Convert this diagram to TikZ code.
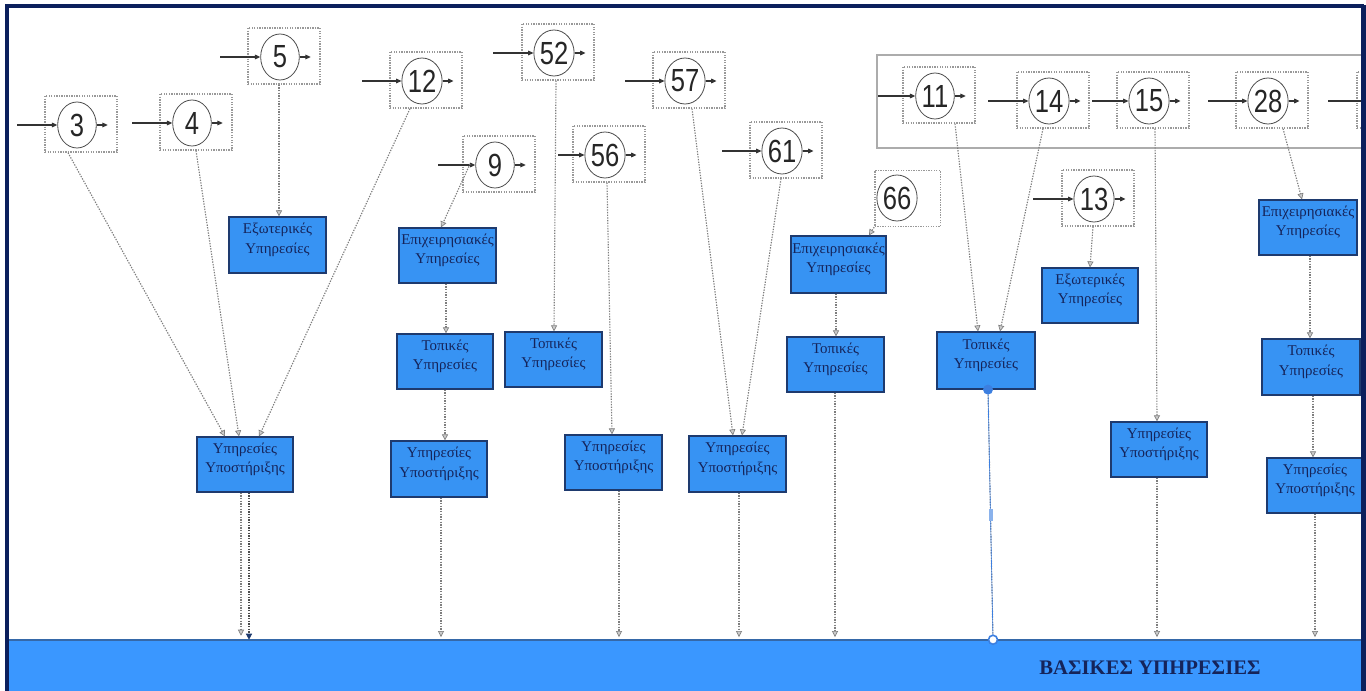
\documentclass[tikz,border=0pt]{standalone}
\usepackage{graphicx}
\usepackage{fontspec}
\setmainfont{Liberation Serif}
\newfontfamily\numfont{Liberation Sans}
\usetikzlibrary{arrows.meta,shapes.geometric,fit}

\definecolor{framecol}{HTML}{0B1F5C}
\definecolor{svcfill}{HTML}{3793F3}
\definecolor{svcedge}{HTML}{1E3A6E}
\definecolor{svctext}{HTML}{15245A}
\definecolor{bandfill}{HTML}{3A97FF}
\definecolor{bandedge}{HTML}{3568A8}
\definecolor{linkgray}{HTML}{7E7E7E}
\definecolor{selblue}{HTML}{3C7FE0}

\newcommand\procnum[1]{\scalebox{0.8}[1]{\numfont\fontsize{24}{24}\selectfont #1}}

\tikzset{
  pbox/.style={draw=gray!80, line width=1pt, dash pattern=on 1pt off 0.9pt,
    minimum width=54pt, minimum height=42pt, inner sep=0pt},
  pcirc/.style={ellipse, draw=black!70, line width=0.6pt, fill=white,
    minimum width=29pt, minimum height=34.5pt, inner sep=0pt, text=black!85},
  pin/.style={draw=black!80, line width=0.8pt, -{Triangle[length=4pt,width=3.5pt]}},
  pout/.style={draw=black!80, line width=0.8pt, -{Triangle[length=4pt,width=3.5pt]}},
  svc/.style={draw=svcedge, line width=0.9pt, fill=svcfill, inner sep=0pt,
    align=center, text=svctext, font=\fontsize{11.2}{14.5}\selectfont},
  link/.style={draw=linkgray, line width=0.85pt, dash pattern=on 1pt off 1pt,
    -{Triangle[length=4.5pt,width=4.5pt,fill=gray!40,color=linkgray,line width=0.5pt]}},
  darklink/.style={draw=gray!60!black, line width=0.85pt, dash pattern=on 1pt off 1pt,
    -{Triangle[length=4.5pt,width=4.5pt,fill=svcedge,color=svcedge]}},
}

% numbered process step: name, box left, box top, label, start of incoming arrow
\newcommand\procnode[5]{%
  \node[pbox] (#1) at (#2+36,#3+28) {};
  \node[pcirc] (#1c) at (#2+32,#3+29) {\procnum{#4}};
  \draw[pout] (#1c.east) -- ++(11,0) coordinate (#1o);
  \coordinate (#1i) at (#5,#3+29);
  \draw[pin] (#1i) -- (#1c.west);
}

\begin{document}
\begin{tikzpicture}[x=0.75pt,y=-0.75pt]
\useasboundingbox (0,0) rectangle (1366,691);
\fill[white] (0,0) rectangle (1366,691);

\begin{scope}
\clip (8,7.5) rectangle (1361,691);

% base band
\node[fit={(8,640) (1366,695)}, fill=bandfill, inner sep=0pt] (band) {};
\draw[bandedge, line width=1.5pt] (band.north west) -- (band.north east);
\node[font=\bfseries\fontsize{15.5}{15.5}\selectfont, text=svctext] (bandlbl) at (1150,668) {ΒΑΣΙΚΕΣ ΥΠΗΡΕΣΙΕΣ};

% grouped chain frame
\node[fit={(877,55) (1400,148)}, draw=gray!65, line width=1.8pt, inner sep=0pt] (grp) {};

% process steps
\procnode{p3}{45}{96}{3}{17}
\procnode{p4}{160}{94}{4}{132}
\procnode{p5}{248}{28}{5}{220}
\procnode{p12}{390}{52}{12}{362}
\procnode{p9}{463}{136}{9}{438}
\procnode{p52}{522}{24}{52}{493}
\procnode{p56}{573}{126}{56}{558}
\procnode{p57}{653}{52}{57}{625}
\procnode{p61}{750}{122}{61}{722}
\procnode{p11}{903}{67}{11}{878}
\procnode{p14}{1017}{72}{14}{988}
\procnode{p15}{1117}{72}{15}{1092}
\procnode{p28}{1236}{72}{28}{1208}
\procnode{pnext}{1357}{72}{}{1328}
\procnode{p13}{1062}{170}{13}{1033}
\node[pbox, minimum width=49pt] (p66) at (907.5,198.5) {};
\node[pcirc] (p66c) at (897,198) {\procnum{66}};

% service boxes
\node[svc, fit={(229,217) (326,273)}] (e5) {Εξωτερικές\\Υπηρεσίες};
\node[svc, fit={(197,437) (293,492)}] (s1) {Υπηρεσίες\\Υποστήριξης};
\node[svc, fit={(399,228) (496,283)}] (b9) {Επιχειρησιακές\\Υπηρεσίες};
\node[svc, fit={(397,334) (493,389)}] (t9) {Τοπικές\\Υπηρεσίες};
\node[svc, fit={(391,441) (487,497)}] (s9) {Υπηρεσίες\\Υποστήριξης};
\node[svc, fit={(505,332) (602,387)}] (t52) {Τοπικές\\Υπηρεσίες};
\node[svc, fit={(565,435) (662,490)}] (s56) {Υπηρεσίες\\Υποστήριξης};
\node[svc, fit={(689,436) (786,492)}] (s57) {Υπηρεσίες\\Υποστήριξης};
\node[svc, fit={(791,236) (886,293)}] (b66) {Επιχειρησιακές\\Υπηρεσίες};
\node[svc, fit={(787,337) (884,392)}] (t66) {Τοπικές\\Υπηρεσίες};
\node[svc, fit={(937,332) (1035,389)}] (t11) {Τοπικές\\Υπηρεσίες};
\node[svc, fit={(1042,268) (1138,323)}] (e13) {Εξωτερικές\\Υπηρεσίες};
\node[svc, fit={(1111,422) (1207,477)}] (s15) {Υπηρεσίες\\Υποστήριξης};
\node[svc, fit={(1259,200) (1357,255)}] (b28) {Επιχειρησιακές\\Υπηρεσίες};
\node[svc, fit={(1262,339) (1360,395)}] (t28) {Τοπικές\\Υπηρεσίες};
\node[svc, fit={(1267,458) (1363,513)}] (s28) {Υπηρεσίες\\Υποστήριξης};

% dotted links
\draw[link] (p3.south -| 68,0) -- (s1.north -| 225,0);
\draw[link] (p4.south -| 196,0) -- (s1.north -| 239,0);
\draw[link] (p12.south -| 410,0) -- (s1.north -| 259,0);
\draw[link] (p5.south -| 279,0) -- (e5.north -| 279,0);
\draw[link] (p9.west -| 470,0) -- (b9.north -| 441,0);
\draw[link] (b9.south -| 446,0) -- (t9.north -| 446,0);
\draw[link] (t9.south -| 445,0) -- (s9.north -| 445,0);
\draw[link, shorten >=2pt] (s9.south -| 441,0) -- (band.north -| 441,0);
\draw[link, shorten >=3pt] (s1.south -| 241,0) -- (band.north -| 241,0);
\draw[darklink] (s1.south -| 249,0) -- (band.north -| 249,0);
\draw[link] (p52.south -| 556,0) -- (t52.north -| 554,0);
\draw[link] (p56.south -| 607,0) -- (s56.north -| 612,0);
\draw[link, shorten >=2pt] (s56.south -| 619,0) -- (band.north -| 619,0);
\draw[link] (p57.south -| 692,0) -- (s57.north -| 733,0);
\draw[link] (p61.south -| 781,0) -- (s57.north -| 742,0);
\draw[link, shorten >=2pt] (s57.south -| 739,0) -- (band.north -| 739,0);
\draw[link] (p66.south west) -- (b66.north -| 869,0);
\draw[link] (b66.south -| 836,0) -- (t66.north -| 836,0);
\draw[link, shorten >=2pt] (t66.south -| 835,0) -- (band.north -| 835,0);
\draw[link] (p11.south -| 955,0) -- (t11.north -| 978,0);
\draw[link] (p14.south -| 1043,0) -- (t11.north -| 1000,0);
\draw[link] (p15.south -| 1155,0) -- (s15.north -| 1157,0);
\draw[link, shorten >=2pt] (s15.south -| 1157,0) -- (band.north -| 1157,0);
\draw[link] (p13.south -| 1093,0) -- (e13.north -| 1090,0);
\draw[link] (p28.south -| 1283,0) -- (b28.north -| 1302,0);
\draw[link] (b28.south -| 1310,0) -- (t28.north -| 1310,0);
\draw[link] (t28.south -| 1313,0) -- (s28.north -| 1313,0);
\draw[link, shorten >=2pt] (s28.south -| 1315,0) -- (band.north -| 1315,0);

% highlighted link with its handles
\coordinate (selA) at (t11.south -| 988,0);
\coordinate (selB) at (band.north -| 993,0);
\draw[linkgray, line width=0.85pt, dash pattern=on 1pt off 1pt] (selA) -- (selB);
\draw[selblue, line width=0.5pt] (selA) -- (selB);
\fill[selblue!60] (988.5,509) rectangle (992.5,521);
\fill[selblue] (selA) circle (5);
\draw[selblue, fill=white, line width=1.2pt] (selB) circle (4.5);
\end{scope}

% outer frame
\draw[framecol, line width=2.3pt] (7,692) -- (7,6) -- (1363.5,6);
\draw[framecol, line width=4pt] (1363.5,5) -- (1363.5,692);
\end{tikzpicture}
\end{document}
